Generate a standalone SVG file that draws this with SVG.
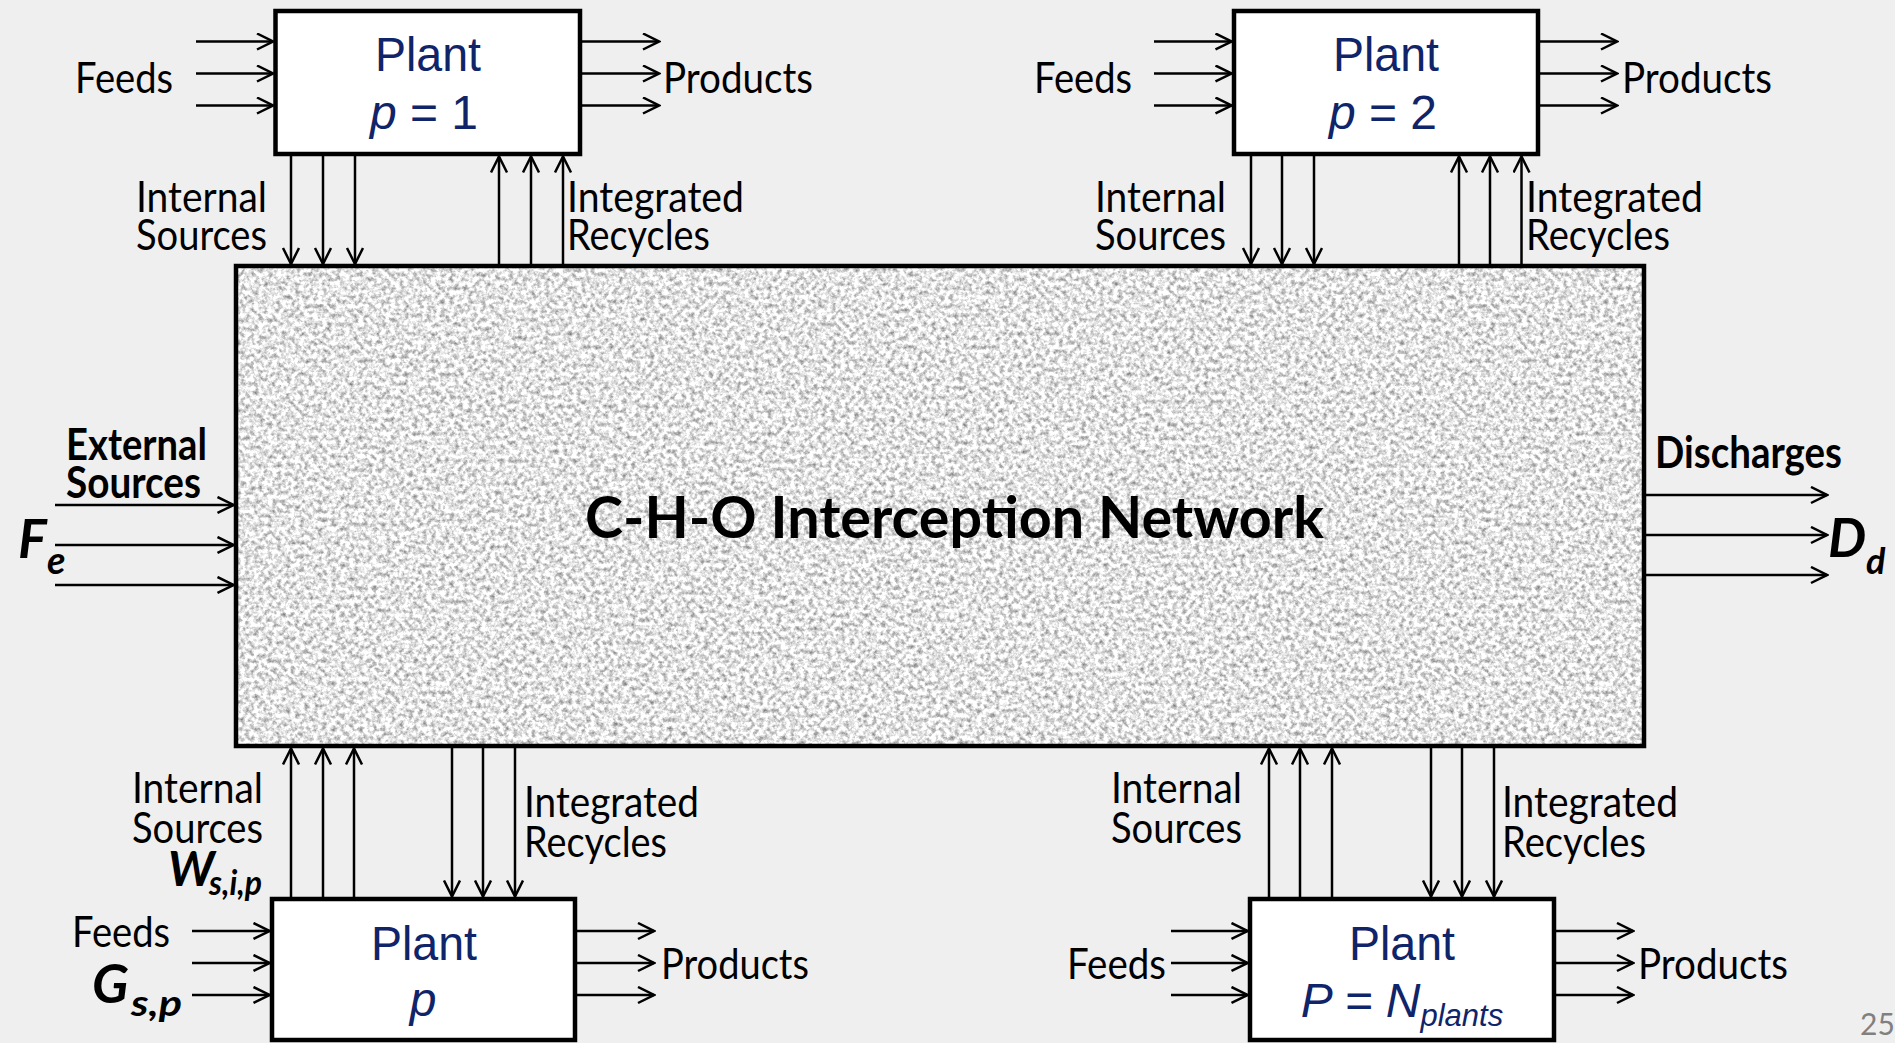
<svg xmlns="http://www.w3.org/2000/svg" width="1895" height="1043" viewBox="0 0 1895 1043">
  <defs>
    <style>
      .lbl { font-family: Lato, "Open Sans", "DejaVu Sans", sans-serif; font-size: 43px; fill: #000; }
      .bold { font-weight: 700; }
      .title { font-size: 58px; }
      .math { font-family: Lato, "Open Sans", "DejaVu Sans", sans-serif; font-weight: 700; font-style: italic; fill: #000; }
      .ptxt { font-family: "Liberation Sans", Arial, sans-serif; font-size: 48px; fill: #102469; text-anchor: middle; }
      .ital { font-style: italic; }
      .box { fill: #fff; stroke: #000; stroke-width: 4.5; }
      .flow { stroke: #000; stroke-width: 2.5; fill: none; marker-end: url(#arr); }
      .pageno { font-family: Lato, "Open Sans", sans-serif; font-size: 30px; fill: #808080; }
    </style>
    <!-- open V-shaped arrowhead used by every flow line -->
    <marker id="arr" viewBox="-1 -1 19 19" refX="16" refY="8" markerWidth="19" markerHeight="19" markerUnits="userSpaceOnUse" orient="auto">
      <path d="M0,0 L16,8 L0,16" fill="none" stroke="#000" stroke-width="2.5"/>
    </marker>
    <!-- light grey granite grain for the interception network block -->
    <filter id="granite" x="0" y="0" width="100%" height="100%" color-interpolation-filters="sRGB">
      <feTurbulence type="fractalNoise" baseFrequency="0.22" numOctaves="4" seed="7" result="n"/>
      <feColorMatrix in="n" type="matrix" values="0.95 0 0 0 0.42  0.95 0 0 0 0.42  0.95 0 0 0 0.42  0 0 0 0 1"/>
    </filter>
  </defs>

  <!-- page background -->
  <rect x="0" y="0" width="1895" height="1043" fill="#f0efef"/>

  <!-- central network block -->
  <g id="network">
    <rect x="236" y="266" width="1408" height="480" fill="#dcdcdc" filter="url(#granite)"/>
    <rect x="236" y="266" width="1408" height="480" fill="none" stroke="#000" stroke-width="4.5"/>
    <text class="lbl bold title" x="585" y="538" textLength="739" lengthAdjust="spacingAndGlyphs">C-H-O Interception Network</text>
  </g>

  <!-- plant p = 1 -->
  <g id="plant-1">
    <rect class="box" x="275.5" y="11" width="304.5" height="143"/>
    <text class="ptxt" x="428" y="71" textLength="106" lengthAdjust="spacingAndGlyphs">Plant</text>
    <text class="ptxt" x="424" y="129"><tspan class="ital">p</tspan> = 1</text>
  </g>

  <!-- plant p = 2 -->
  <g id="plant-2">
    <rect class="box" x="1234" y="11" width="304" height="143"/>
    <text class="ptxt" x="1386" y="71" textLength="106" lengthAdjust="spacingAndGlyphs">Plant</text>
    <text class="ptxt" x="1383" y="129"><tspan class="ital">p</tspan> = 2</text>
  </g>

  <!-- generic plant p -->
  <g id="plant-p">
    <rect class="box" x="272" y="899" width="303" height="141"/>
    <text class="ptxt" x="424" y="960" textLength="106" lengthAdjust="spacingAndGlyphs">Plant</text>
    <text class="ptxt ital" x="423" y="1016">p</text>
  </g>

  <!-- last plant P = N_plants -->
  <g id="plant-n">
    <rect class="box" x="1250" y="899" width="304" height="141"/>
    <text class="ptxt" x="1402" y="960" textLength="106" lengthAdjust="spacingAndGlyphs">Plant</text>
    <text class="ptxt ital" x="1402" y="1017">P = N<tspan font-size="31" dy="9">plants</tspan></text>
  </g>

  <!-- flow connectors -->
  <g id="connectors">
    <!-- plant 1 -->
    <line class="flow" x1="196" y1="41.5" x2="273" y2="41.5"/>
    <line class="flow" x1="196" y1="73.5" x2="273" y2="73.5"/>
    <line class="flow" x1="196" y1="105.5" x2="273" y2="105.5"/>
    <line class="flow" x1="580" y1="41.5" x2="659" y2="41.5"/>
    <line class="flow" x1="580" y1="73.5" x2="659" y2="73.5"/>
    <line class="flow" x1="580" y1="105.5" x2="659" y2="105.5"/>
    <line class="flow" x1="291" y1="154" x2="291" y2="264"/>
    <line class="flow" x1="323" y1="154" x2="323" y2="264"/>
    <line class="flow" x1="355" y1="154" x2="355" y2="264"/>
    <line class="flow" x1="499" y1="266" x2="499" y2="156.5"/>
    <line class="flow" x1="531" y1="266" x2="531" y2="156.5"/>
    <line class="flow" x1="563" y1="266" x2="563" y2="156.5"/>

    <!-- plant 2 -->
    <line class="flow" x1="1154" y1="41.5" x2="1231.5" y2="41.5"/>
    <line class="flow" x1="1154" y1="73.5" x2="1231.5" y2="73.5"/>
    <line class="flow" x1="1154" y1="105.5" x2="1231.5" y2="105.5"/>
    <line class="flow" x1="1538" y1="41.5" x2="1617" y2="41.5"/>
    <line class="flow" x1="1538" y1="73.5" x2="1617" y2="73.5"/>
    <line class="flow" x1="1538" y1="105.5" x2="1617" y2="105.5"/>
    <line class="flow" x1="1251" y1="154" x2="1251" y2="264"/>
    <line class="flow" x1="1282" y1="154" x2="1282" y2="264"/>
    <line class="flow" x1="1314" y1="154" x2="1314" y2="264"/>
    <line class="flow" x1="1459" y1="266" x2="1459" y2="156.5"/>
    <line class="flow" x1="1490" y1="266" x2="1490" y2="156.5"/>
    <line class="flow" x1="1521.5" y1="266" x2="1521.5" y2="156.5"/>

    <!-- plant p -->
    <line class="flow" x1="192" y1="931" x2="269.5" y2="931"/>
    <line class="flow" x1="192" y1="963" x2="269.5" y2="963"/>
    <line class="flow" x1="192" y1="995" x2="269.5" y2="995"/>
    <line class="flow" x1="575" y1="931" x2="654" y2="931"/>
    <line class="flow" x1="575" y1="963" x2="654" y2="963"/>
    <line class="flow" x1="575" y1="995" x2="654" y2="995"/>
    <line class="flow" x1="291" y1="899" x2="291" y2="748.5"/>
    <line class="flow" x1="323" y1="899" x2="323" y2="748.5"/>
    <line class="flow" x1="354" y1="899" x2="354" y2="748.5"/>
    <line class="flow" x1="452" y1="746" x2="452" y2="896.5"/>
    <line class="flow" x1="483" y1="746" x2="483" y2="896.5"/>
    <line class="flow" x1="515" y1="746" x2="515" y2="896.5"/>

    <!-- plant N -->
    <line class="flow" x1="1171" y1="931" x2="1247.5" y2="931"/>
    <line class="flow" x1="1171" y1="963" x2="1247.5" y2="963"/>
    <line class="flow" x1="1171" y1="995" x2="1247.5" y2="995"/>
    <line class="flow" x1="1554" y1="931" x2="1633" y2="931"/>
    <line class="flow" x1="1554" y1="963" x2="1633" y2="963"/>
    <line class="flow" x1="1554" y1="995" x2="1633" y2="995"/>
    <line class="flow" x1="1269" y1="899" x2="1269" y2="748.5"/>
    <line class="flow" x1="1300" y1="899" x2="1300" y2="748.5"/>
    <line class="flow" x1="1332" y1="899" x2="1332" y2="748.5"/>
    <line class="flow" x1="1431" y1="746" x2="1431" y2="896.5"/>
    <line class="flow" x1="1462" y1="746" x2="1462" y2="896.5"/>
    <line class="flow" x1="1494" y1="746" x2="1494" y2="896.5"/>

    <!-- external sources in, discharges out -->
    <line class="flow" x1="55" y1="505" x2="233.5" y2="505"/>
    <line class="flow" x1="55" y1="545" x2="233.5" y2="545"/>
    <line class="flow" x1="55" y1="585" x2="233.5" y2="585"/>
    <line class="flow" x1="1646" y1="495" x2="1827" y2="495"/>
    <line class="flow" x1="1646" y1="535" x2="1827" y2="535"/>
    <line class="flow" x1="1646" y1="575" x2="1827" y2="575"/>
  </g>

  <!-- stream labels -->
  <g id="labels">
    <!-- plant 1 -->
    <text class="lbl" x="75" y="93" textLength="98" lengthAdjust="spacingAndGlyphs">Feeds</text>
    <text class="lbl" x="663" y="93" textLength="150" lengthAdjust="spacingAndGlyphs">Products</text>
    <text class="lbl" x="136" y="212" textLength="131" lengthAdjust="spacingAndGlyphs">Internal</text>
    <text class="lbl" x="136" y="250" textLength="131" lengthAdjust="spacingAndGlyphs">Sources</text>
    <text class="lbl" x="567" y="212" textLength="177" lengthAdjust="spacingAndGlyphs">Integrated</text>
    <text class="lbl" x="567" y="250" textLength="143" lengthAdjust="spacingAndGlyphs">Recycles</text>

    <!-- plant 2 -->
    <text class="lbl" x="1034" y="93" textLength="98" lengthAdjust="spacingAndGlyphs">Feeds</text>
    <text class="lbl" x="1622" y="93" textLength="150" lengthAdjust="spacingAndGlyphs">Products</text>
    <text class="lbl" x="1095" y="212" textLength="131" lengthAdjust="spacingAndGlyphs">Internal</text>
    <text class="lbl" x="1095" y="250" textLength="131" lengthAdjust="spacingAndGlyphs">Sources</text>
    <text class="lbl" x="1526" y="212" textLength="177" lengthAdjust="spacingAndGlyphs">Integrated</text>
    <text class="lbl" x="1526" y="250" textLength="144" lengthAdjust="spacingAndGlyphs">Recycles</text>

    <!-- plant p -->
    <text class="lbl" x="132" y="803" textLength="131" lengthAdjust="spacingAndGlyphs">Internal</text>
    <text class="lbl" x="132" y="843" textLength="131" lengthAdjust="spacingAndGlyphs">Sources</text>
    <text class="math" x="168" y="886" font-size="48">W</text>
    <text class="math" x="209" y="895" font-size="34" textLength="53" lengthAdjust="spacingAndGlyphs">s,i,p</text>
    <text class="lbl" x="524" y="817" textLength="175" lengthAdjust="spacingAndGlyphs">Integrated</text>
    <text class="lbl" x="524" y="857" textLength="143" lengthAdjust="spacingAndGlyphs">Recycles</text>
    <text class="lbl" x="72" y="947" textLength="98" lengthAdjust="spacingAndGlyphs">Feeds</text>
    <text class="math" x="92" y="1003" font-size="54">G</text>
    <text class="math" x="131" y="1016" font-size="36" textLength="51" lengthAdjust="spacingAndGlyphs">s,p</text>
    <text class="lbl" x="661" y="979" textLength="148" lengthAdjust="spacingAndGlyphs">Products</text>

    <!-- plant N -->
    <text class="lbl" x="1111" y="803" textLength="131" lengthAdjust="spacingAndGlyphs">Internal</text>
    <text class="lbl" x="1111" y="843" textLength="131" lengthAdjust="spacingAndGlyphs">Sources</text>
    <text class="lbl" x="1502" y="817" textLength="176" lengthAdjust="spacingAndGlyphs">Integrated</text>
    <text class="lbl" x="1502" y="857" textLength="144" lengthAdjust="spacingAndGlyphs">Recycles</text>
    <text class="lbl" x="1067" y="979" textLength="99" lengthAdjust="spacingAndGlyphs">Feeds</text>
    <text class="lbl" x="1638" y="979" textLength="150" lengthAdjust="spacingAndGlyphs">Products</text>

    <!-- external sources -->
    <text class="lbl bold" x="66" y="460" textLength="141" lengthAdjust="spacingAndGlyphs">External</text>
    <text class="lbl bold" x="66" y="498" textLength="135" lengthAdjust="spacingAndGlyphs">Sources</text>
    <text class="math" x="18" y="558" font-size="54">F</text>
    <text class="math" x="47" y="574" font-size="38">e</text>

    <!-- discharges -->
    <text class="lbl bold" x="1655" y="468" textLength="187" lengthAdjust="spacingAndGlyphs">Discharges</text>
    <text class="math" x="1828" y="557" font-size="54">D</text>
    <text class="math" x="1866" y="574" font-size="36">d</text>
  </g>

  <text class="pageno" x="1860" y="1035">25</text>
</svg>
